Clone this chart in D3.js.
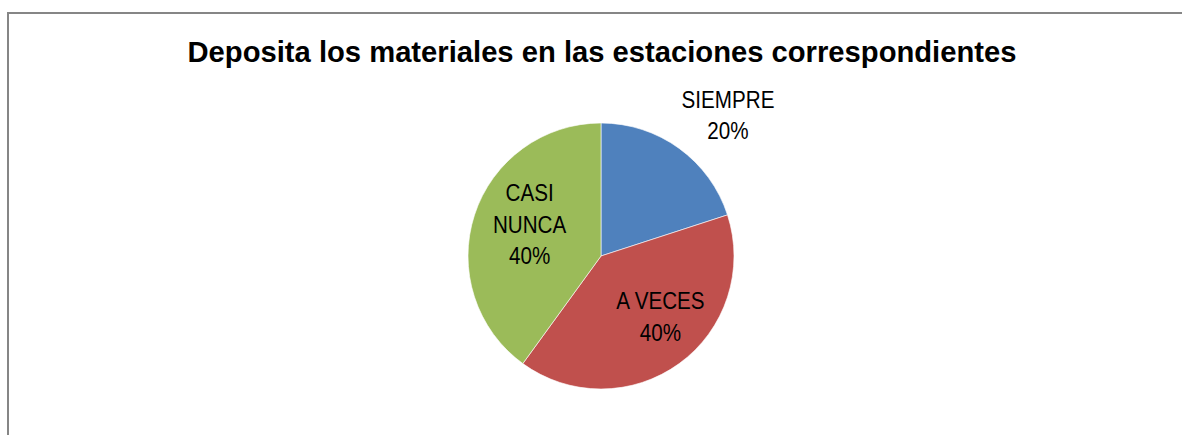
<!DOCTYPE html>
<html>
<head>
<meta charset="utf-8">
<script src="https://cdn.jsdelivr.net/npm/d3@7"></script>
<style>
  html, body { margin: 0; padding: 0; background: #fff; }
  svg { display: block; }
  .title { font-family: "Liberation Sans", Arial, sans-serif; font-weight: bold; font-size: 29.2px; fill: #000; }
  .lbl { font-family: "Liberation Sans", Arial, sans-serif; font-size: 24px; fill: #000; }
</style>
</head>
<body>
<div id="chart"></div>
<script>
// datos del gráfico
const categories = ["SIEMPRE", "A VECES", "CASI NUNCA"];
const values = [20, 40, 40];
const labelLines = [["SIEMPRE", "20%"], ["A VECES", "40%"], ["CASI", "NUNCA", "40%"]];
const colors = ["#4F81BD", "#C0504D", "#9BBB59"];
const titleText = "Deposita los materiales en las estaciones correspondientes";

(function () {
  const W = 1182, H = 435;
  const cx = 601, cy = 256, r = 133;

  const svg = d3.select("#chart").append("svg")
    .attr("width", W).attr("height", H);

  // marco del área del gráfico (solo se ven borde superior e izquierdo)
  svg.append("path")
    .attr("d", `M8,${H + 5} L8,13 L${W + 5},13`)
    .attr("fill", "none").attr("stroke", "#868686").attr("stroke-width", 2);

  svg.append("text").attr("class", "title")
    .attr("x", 602).attr("y", 62)
    .attr("text-anchor", "middle")
    .text(titleText);

  const pie = d3.pie().sort(null).value(d => d)(values);
  const arc = d3.arc().innerRadius(0).outerRadius(r);
  const color = d3.scaleOrdinal().domain(categories).range(colors);

  const g = svg.append("g").attr("transform", `translate(${cx},${cy})`);

  g.selectAll("path.slice")
    .data(pie).join("path")
    .attr("class", "slice")
    .attr("d", arc)
    .attr("fill", (d, i) => color(categories[i]))
    .attr("stroke", "#fff").attr("stroke-width", 0.6);

  // posiciones de etiquetas: dentro del sector o afuera (mejor ajuste)
  const inner = d3.arc().innerRadius(r * 0.62).outerRadius(r * 0.62);
  const lineH = 31.5;
  const labelPos = (d, i) => {
    const [x, y] = inner.centroid(d);
    if (i === 0) return [127, -141];        // fuera del sector pequeño
    if (i === 1) return [x + 11, y - 6];
    return [x + 7, y - 6];
  };

  // texto algo comprimido en horizontal, parecido a Calibri
  g.selectAll("text.lbl")
    .data(pie).join("text")
    .attr("class", "lbl")
    .attr("text-anchor", "middle")
    .each(function (d, i) {
      const [x, y] = labelPos(d, i);
      const lines = labelLines[i];
      const t = d3.select(this)
        .attr("transform", `translate(${x},${y}) scale(0.86,1)`);
      lines.forEach((ln, k) => {
        t.append("tspan")
          .attr("x", 0)
          .attr("y", (k - (lines.length - 1) / 2) * lineH)
          .attr("dy", "0.35em")
          .text(ln);
      });
    });
})();
</script>
</body>
</html>
